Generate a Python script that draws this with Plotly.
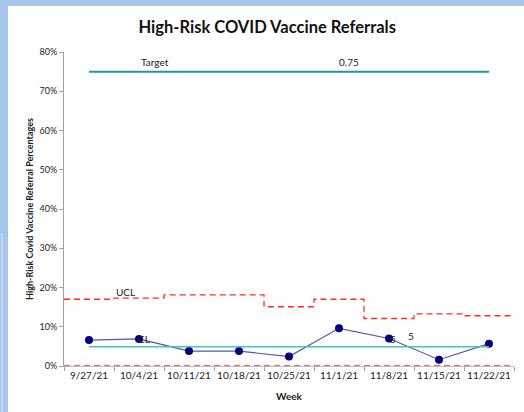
import plotly.graph_objects as go

weeks = ["9/27/21", "10/4/21", "10/11/21", "10/18/21", "10/25/21", "11/1/21", "11/8/21", "11/15/21", "11/22/21"]
referral_pct = [0.066, 0.069, 0.038, 0.038, 0.024, 0.096, 0.070, 0.016, 0.057]
ucl = [0.170, 0.173, 0.181, 0.181, 0.151, 0.170, 0.121, 0.133, 0.128]
lcl = [0.0, 0.0, 0.0, 0.0, 0.0, 0.0, 0.0, 0.0, 0.0]
cl_value = 0.049
target_value = 0.75

FONT = "Lato"
n = len(weeks)
idx = list(range(n))

# step edges for control limits (each week spans its full category width)
edges = [i - 0.5 for i in idx] + [n - 0.5]
ucl_step = ucl + [ucl[-1]]
lcl_step = lcl + [lcl[-1]]

fig = go.Figure()

fig.add_trace(go.Scatter(x=edges, y=lcl_step, xaxis="x2", mode="lines", line_shape="hv",
                         line=dict(color="#FF2A2A", width=1.3, dash="6px,4px"), hoverinfo="skip"))
fig.add_trace(go.Scatter(x=edges, y=ucl_step, xaxis="x2", mode="lines", line_shape="hv",
                         line=dict(color="#FF2A2A", width=1.3, dash="6px,4px"), hoverinfo="skip"))
fig.add_trace(go.Scatter(x=[idx[0], idx[-1]], y=[cl_value, cl_value], xaxis="x2", mode="lines",
                         line=dict(color="#45C4BF", width=1.3), hoverinfo="skip"))
fig.add_trace(go.Scatter(x=[idx[0], idx[-1]], y=[target_value, target_value], xaxis="x2", mode="lines",
                         line=dict(color="#1E9A90", width=2), hoverinfo="skip"))
fig.add_trace(go.Scatter(x=weeks, y=referral_pct, mode="lines+markers",
                         line=dict(color="#5555AA", width=1.2),
                         marker=dict(color="#000080", size=8)))

ann_font = dict(family=FONT, size=10, color="#222222")
annotations = [
    dict(x=0.72, y=0.189, xref="x2", yref="y", text="UCL", showarrow=False, font=ann_font),
    dict(x=1.1, y=0.069, xref="x2", yref="y", text="CL", showarrow=False, font=ann_font),
    dict(x=1.32, y=0.775, xref="x2", yref="y", text="Target", showarrow=False, font=ann_font),
    dict(x=5.2, y=0.775, xref="x2", yref="y", text=str(target_value), showarrow=False, font=ann_font),
    dict(x=6.08, y=0.069, xref="x2", yref="y", text="5", showarrow=False, font=ann_font),
    dict(x=6.43, y=0.077, xref="x2", yref="y", text="5", showarrow=False, font=ann_font),
    dict(x=0.5, y=-0.095, xref="paper", yref="paper", text="<b>Week</b>", showarrow=False,
         font=dict(family=FONT, size=10, color="#222222"), xanchor="center", yanchor="middle"),
    dict(x=-0.078, y=0.5, xref="paper", yref="paper", text="<b>High-Risk Covid Vaccine Referral Percentages</b>",
         showarrow=False, textangle=-90, xanchor="center", yanchor="middle",
         font=dict(family=FONT, size=9, color="#222222")),
]

# light blue frame around the chart (pixel -> paper conversions)
def px_x(p):
    return (p - 64) / 450.0

def px_y(p):
    return (366 - p) / 314.0

shapes = [
    dict(type="rect", xref="paper", yref="paper", x0=px_x(-2), x1=px_x(8), y0=px_y(414), y1=px_y(-2),
         fillcolor="#A3C6EA", line=dict(width=0), layer="below"),
    dict(type="rect", xref="paper", yref="paper", x0=px_x(-2), x1=px_x(526), y0=px_y(6), y1=px_y(-2),
         fillcolor="#A3C6EA", line=dict(width=0), layer="below"),
    dict(type="rect", xref="paper", yref="paper", x0=px_x(1.5), x1=px_x(2.5), y0=px_y(414), y1=px_y(233),
         fillcolor="#D8E7F6", line=dict(width=0), layer="below"),
]

fig.update_layout(
    width=524, height=412,
    margin=dict(l=64, r=10, t=52, b=46, autoexpand=False),
    paper_bgcolor="white", plot_bgcolor="white",
    showlegend=False,
    title=dict(text="<b>High-Risk COVID Vaccine Referrals</b>", x=0.51, xanchor="center",
               y=1 - 27 / 412, yanchor="middle", automargin=False,
               font=dict(family=FONT, size=16.5, color="#111111")),
    xaxis=dict(type="category", range=[-0.5, n - 0.5], tickson="boundaries", ticks="outside",
               ticklen=4, tickcolor="#A0A0A0", showline=True, linecolor="#C0C0C0", layer="below traces",
               showgrid=False, zeroline=False, tickangle=0, automargin=False,
               tickfont=dict(family=FONT, size=10, color="#222222")),
    xaxis2=dict(overlaying="x", range=[-0.5, n - 0.5], visible=False, showgrid=False, zeroline=False),
    yaxis=dict(range=[0, 0.8], dtick=0.1, tickformat=".0%", ticks="outside", ticklen=4, automargin=False,
               tickcolor="#A0A0A0", showline=True, linecolor="#A0A0A0", showgrid=False, zeroline=False,
               tickfont=dict(family=FONT, size=9, color="#222222")),
    annotations=annotations,
    shapes=shapes,
)

fig.write_html("out.html", config={"displayModeBar": False},
               post_script="document.body.style.margin='0';document.body.style.overflow='hidden';")
